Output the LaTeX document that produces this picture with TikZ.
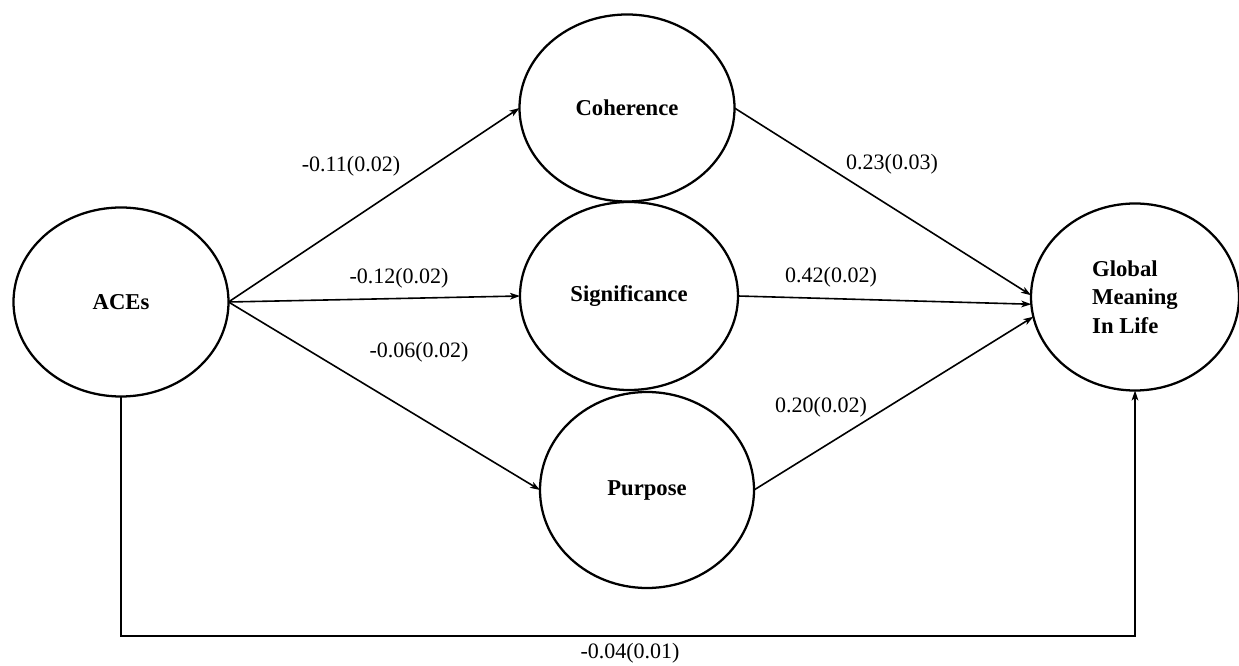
\documentclass[tikz,border=0pt]{standalone}
\usepackage{fontspec}
\setmainfont{Liberation Serif}
\usetikzlibrary{shapes.geometric,arrows.meta}
\begin{document}
\begin{tikzpicture}[x=0.75pt,y=-0.75pt,
  latent/.style={draw=black,line width=1.7pt,ellipse,inner sep=0pt,outer sep=0pt,
    font=\fontsize{17}{21}\selectfont\bfseries},
  coef/.style={font=\fontsize{16.5}{20}\selectfont,inner sep=0pt},
  path/.style={draw=black,line width=1.2pt,-{Stealth[length=7.5pt,width=5pt,inset=2pt]}}]
\useasboundingbox[fill=white] (0,0) rectangle (1239,666);

\node[latent,minimum width=161.25pt,minimum height=141.75pt] (A) at (121,302) {ACEs};
\node[latent,minimum width=161.25pt,minimum height=140.25pt] (C) at (627,108) {Coherence};
\node[latent,minimum width=163.5pt,minimum height=141pt] (S) at (629,296) {Significance};
\node[latent,minimum width=160.5pt,minimum height=147pt] (P) at (647,490) {Purpose};
\node[latent,minimum width=156pt,minimum height=140.25pt,align=left,
      font=\fontsize{17}{21.5}\selectfont\bfseries] (G) at (1135,297) {Global\\Meaning\\In Life};

\draw[path] (A.east) -- (C.west);
\draw[path] (A.east) -- (S.west);
\draw[path] (A.east) -- (P.west);
\draw[path] (C.east) -- (G.179);
\draw[path] (S.east) -- (G.184);
\draw[path] (P.east) -- (G.191);
\draw[path] (A.south) -- (A.south |- 0,636) -| (G.south);

\node[coef] (l1) at (351,166) {-0.11(0.02)};
\node[coef] (l2) at (399,278) {-0.12(0.02)};
\node[coef] (l3) at (419,352) {-0.06(0.02)};
\node[coef] (l4) at (892,164) {0.23(0.03)};
\node[coef] (l5) at (831,277) {0.42(0.02)};
\node[coef] (l6) at (821,407) {0.20(0.02)};
\node[coef] (l7) at (630,653) {-0.04(0.01)};
\end{tikzpicture}
\end{document}
